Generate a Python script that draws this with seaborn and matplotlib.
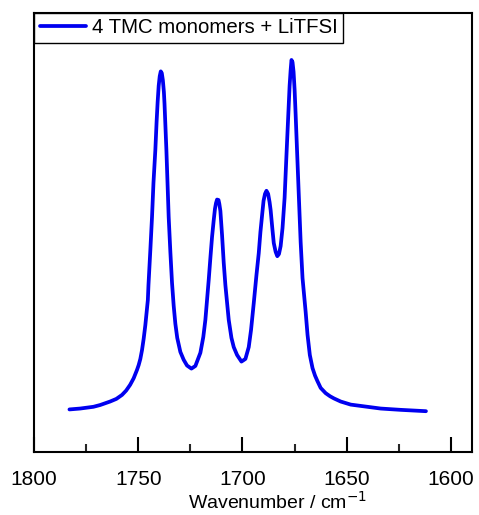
import numpy as np
import pandas as pd
import seaborn as sns
import matplotlib.pyplot as plt

wavenumber = [1783.0, 1777.9, 1771.5, 1768.3, 1763.5, 1760.5, 1757.8, 1755.8, 1753.9, 1752.2,
              1750.6, 1749.8, 1749.0, 1748.2, 1747.4,
              1746.6, 1745.4, 1745.1, 1744.2, 1743.4, 1742.7, 1741.8, 1741.2, 1740.7, 1740.2,
              1739.7, 1739.2, 1738.7, 1738.2, 1737.7, 1737.4, 1736.5, 1735.4, 1734.6, 1733.8,
              1733.0, 1732.2, 1731.3, 1729.8, 1728.2, 1726.6, 1724.5, 1722.6, 1720.2, 1718.8,
              1717.8, 1716.2, 1715.4, 1714.6, 1713.8, 1713.2, 1712.7, 1712.2, 1711.5, 1711.1,
              1710.6, 1709.8, 1709.0, 1708.2, 1706.6, 1705.3, 1704.2, 1702.6, 1700.5, 1698.6,
              1697.0, 1695.9, 1694.6, 1693.3, 1692.2, 1691.4, 1690.5, 1689.9, 1689.2, 1688.5,
              1687.7, 1687.0, 1686.5, 1685.7, 1685.0, 1684.1, 1683.3, 1682.5, 1681.7, 1680.8,
              1679.8, 1678.9, 1678.1, 1677.4, 1676.9, 1676.5, 1676.0, 1675.5, 1675.0, 1674.5,
              1673.8, 1672.9, 1672.1, 1671.2, 1669.7, 1668.8, 1667.7, 1666.4, 1665.2, 1664.1,
              1662.5, 1660.1, 1658.0, 1656.1, 1652.9, 1648.1, 1640.1, 1633.7, 1624.0, 1612.0]
absorbance = [0.097, 0.099, 0.103, 0.107, 0.115, 0.121, 0.130, 0.140, 0.153, 0.168,
              0.187, 0.198, 0.212, 0.232, 0.258,
              0.289, 0.346, 0.380, 0.460, 0.535, 0.613, 0.688, 0.752, 0.797, 0.834,
              0.856, 0.867, 0.863, 0.847, 0.820, 0.793, 0.688, 0.535, 0.456, 0.385,
              0.333, 0.292, 0.260, 0.228, 0.210, 0.197, 0.190, 0.196, 0.226, 0.262,
              0.301, 0.392, 0.442, 0.490, 0.528, 0.554, 0.567, 0.575, 0.574, 0.565,
              0.549, 0.494, 0.431, 0.380, 0.301, 0.260, 0.239, 0.221, 0.206, 0.212,
              0.239, 0.278, 0.339, 0.403, 0.453, 0.501, 0.544, 0.572, 0.588, 0.595,
              0.588, 0.569, 0.551, 0.510, 0.476, 0.456, 0.446, 0.451, 0.469, 0.510,
              0.579, 0.677, 0.761, 0.834, 0.870, 0.893, 0.888, 0.866, 0.825, 0.768,
              0.683, 0.574, 0.478, 0.396, 0.319, 0.267, 0.221, 0.191, 0.174, 0.162,
              0.146, 0.134, 0.127, 0.122, 0.115, 0.108, 0.103, 0.099, 0.096, 0.093]
series_label = '4 TMC monomers + LiTFSI'
major_ticks = [1800, 1750, 1700, 1650, 1600]
minor_ticks = [1775, 1725, 1675, 1625]

df = pd.DataFrame({'wn': wavenumber, 'A': absorbance})

sns.set_theme(style='ticks')
plt.rcParams['font.family'] = ['Liberation Sans', 'DejaVu Sans']
plt.rcParams['text.color'] = 'black'
plt.rcParams['axes.labelcolor'] = 'black'

fig = plt.figure(figsize=(4.79, 5.15), dpi=100)
ax = fig.add_axes([0.071, 0.1223, 0.914, 0.8525])

sns.lineplot(data=df, x='wn', y='A', sort=False, estimator=None, color='#0000f0',
             linewidth=2.7, label=series_label, ax=ax)

ax.set_xlim(1800, 1590)
ax.set_ylim(0, 1)
ax.set_xticks(major_ticks)
ax.set_xticks(minor_ticks, minor=True)
ax.set_yticks([])
ax.tick_params(axis='x', which='major', direction='in', length=11, width=1.5,
               labelsize=15, pad=13, colors='black')
ax.tick_params(axis='x', which='minor', direction='in', length=6, width=1.5)
ax.set_xlabel('Wavenumber / cm$^{-1}$', fontsize=14)
ax.xaxis.set_label_coords(0.557, -0.088)
ax.set_ylabel('')
for s in ax.spines.values():
    s.set_linewidth(1.5)
    s.set_color('black')

leg = ax.legend(loc='upper left', bbox_to_anchor=(0, 1), borderaxespad=0,
                fontsize=14.7, frameon=True, fancybox=False, framealpha=1,
                edgecolor='black', borderpad=0.27, handlelength=2.3,
                handletextpad=0.25)
leg.get_frame().set_linewidth(1.0)

fig.savefig('out.png', dpi=100)
